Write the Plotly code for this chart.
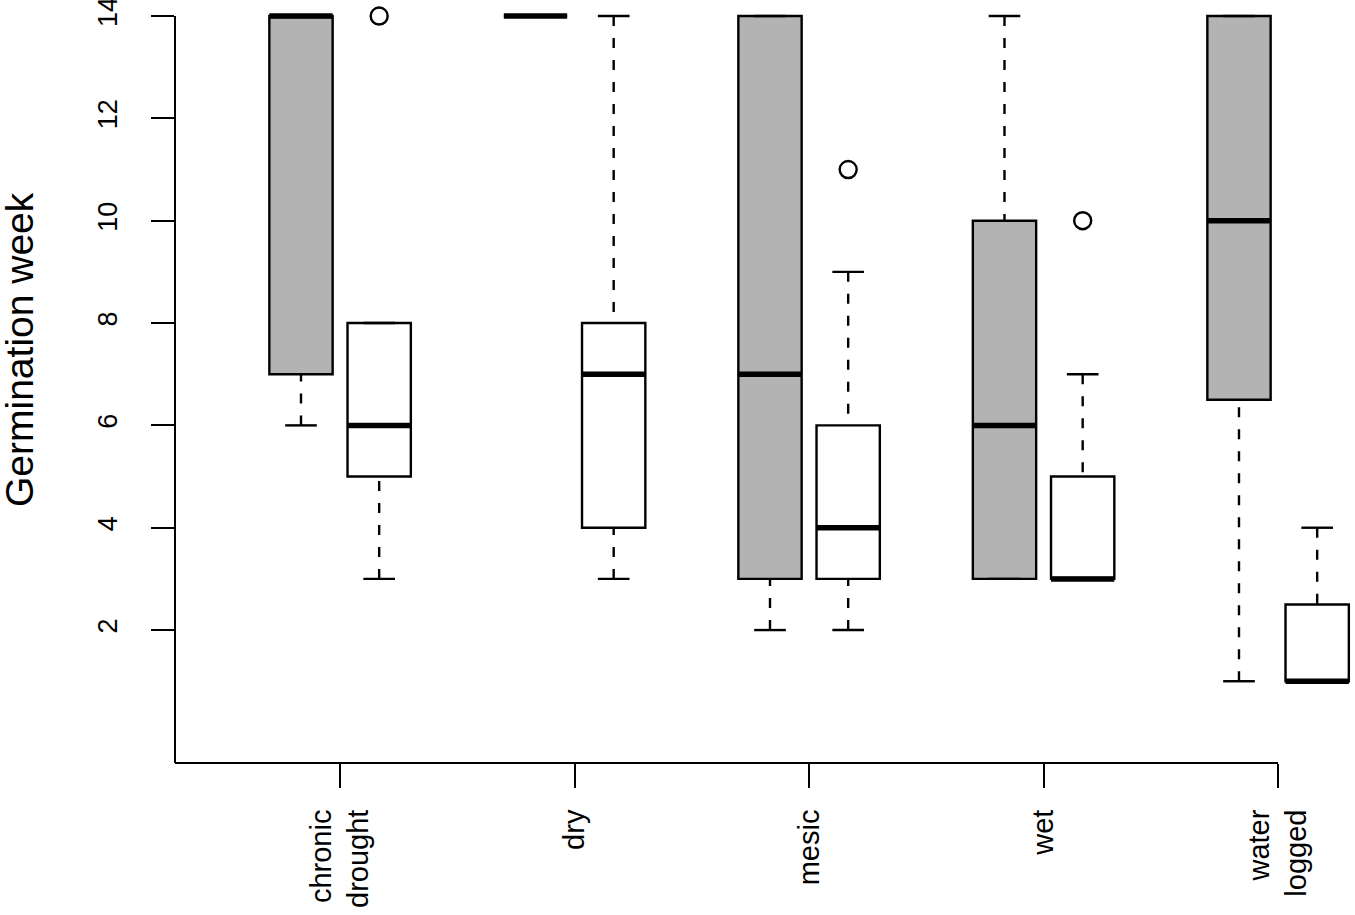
import plotly.graph_objects as go

# categories on the x axis
categories = ["chronic<br>drought", "dry", "mesic", "wet", "water<br>logged"]
positions = [1, 2, 3, 4, 5]

# grey boxes (first group of each pair)
grey_lower = [6, 14, 2, 3, 1]
grey_q1 = [7, 14, 3, 3, 6.5]
grey_median = [14, 14, 7, 6, 10]
grey_q3 = [14, 14, 14, 10, 14]
grey_upper = [14, 14, 14, 14, 14]

# white boxes (second group of each pair)
white_lower = [3, 3, 2, 3, 1]
white_q1 = [5, 4, 3, 3, 1]
white_median = [6, 7, 4, 3, 1]
white_q3 = [8, 8, 6, 5, 2.5]
white_upper = [8, 14, 9, 7, 4]

# outliers of the white boxes
outlier_cat = [1, 3, 4]
outlier_val = [14, 11, 10]

offset = 0.1667
box_w = 0.27
cap_w = box_w / 2
FONT = "Liberation Sans, Arial, sans-serif"

fig = go.Figure()


def add_group(xs, lower, q1, med, q3, upper, fill):
    fig.add_trace(go.Box(
        x=xs, q1=q1, median=med, q3=q3,
        lowerfence=q1, upperfence=q3,
        width=box_w, whiskerwidth=0,
        fillcolor=fill, line=dict(color="black", width=2.4),
        boxpoints=False, showlegend=False, hoverinfo="skip",
    ))
    # dashed whiskers, drawn from the whisker end toward the box
    wx, wy, cx, cy = [], [], [], []
    for x, lo, a, b, hi in zip(xs, lower, q1, q3, upper):
        if lo < a:
            wx += [x, x, None]
            wy += [lo, a, None]
        if hi > b:
            wx += [x, x, None]
            wy += [hi, b, None]
        cx += [x - cap_w / 2, x + cap_w / 2, None, x - cap_w / 2, x + cap_w / 2, None]
        cy += [lo, lo, None, hi, hi, None]
    fig.add_trace(go.Scatter(x=wx, y=wy, mode="lines",
                             line=dict(color="black", width=2.4, dash="10px,12px"),
                             showlegend=False, hoverinfo="skip"))
    fig.add_trace(go.Scatter(x=cx, y=cy, mode="lines",
                             line=dict(color="black", width=2.4),
                             showlegend=False, hoverinfo="skip"))
    mx, my = [], []
    for x, m in zip(xs, med):
        mx += [x - box_w / 2, x + box_w / 2, None]
        my += [m, m, None]
    fig.add_trace(go.Scatter(x=mx, y=my, mode="lines",
                             line=dict(color="black", width=5.5),
                             showlegend=False, hoverinfo="skip"))


grey_x = [p - offset for p in positions]
white_x = [p + offset for p in positions]
add_group(grey_x, grey_lower, grey_q1, grey_median, grey_q3, grey_upper, "#b3b3b3")
add_group(white_x, white_lower, white_q1, white_median, white_q3, white_upper, "white")

fig.add_trace(go.Scatter(
    x=[c + offset for c in outlier_cat], y=outlier_val, mode="markers",
    marker=dict(symbol="circle-open", size=17, color="black", line=dict(width=2.4)),
    showlegend=False, hoverinfo="skip",
))

y_min, y_max = -0.598, 14.313
x_min, x_max = 0.296, 5.328

# L-shaped axis lines: y from bottom to 14, x from left to the last category
fig.add_shape(type="line", xref="paper", yref="y", x0=0, x1=0, y0=y_min, y1=14,
              line=dict(color="black", width=2))
fig.add_shape(type="line", xref="x", yref="paper", x0=x_min, x1=positions[-1], y0=0, y1=0,
              line=dict(color="black", width=2))

fig.add_annotation(text="Germination week", xref="paper", yref="paper",
                   x=(19 - 175) / 1180, y=(763 - 350) / 763,
                   xanchor="center", yanchor="middle", textangle=-90, showarrow=False,
                   font=dict(family=FONT, size=39, color="black"))

fig.update_layout(
    width=1355, height=915,
    margin=dict(l=175, r=0, t=0, b=152),
    paper_bgcolor="white", plot_bgcolor="white",
    boxmode="overlay",
    font=dict(family=FONT, color="black"),
    xaxis=dict(
        range=[x_min, x_max], tickmode="array", tickvals=positions, ticktext=categories,
        tickangle=-90, ticks="outside", ticklen=24, tickwidth=2, tickcolor="black",
        showgrid=False, zeroline=False, showline=False, automargin=False,
        tickfont=dict(family=FONT, size=29, color="black"), ticklabelstandoff=10,
        ticklabeloverflow="allow",
    ),
    yaxis=dict(
        range=[y_min, y_max], tickmode="array", tickvals=[2, 4, 6, 8, 10, 12, 14],
        tickangle=-90, ticks="outside", ticklen=23, tickwidth=2, tickcolor="black",
        showgrid=False, zeroline=False, showline=False, automargin=False,
        tickfont=dict(family=FONT, size=27, color="black"), ticklabelstandoff=23,
        ticklabeloverflow="allow",
    ),
)

# the page's default body margin would shift the figure by 8px
fig.write_html("out.html", config={"displayModeBar": False},
               post_script="document.body.style.margin = '0';")
